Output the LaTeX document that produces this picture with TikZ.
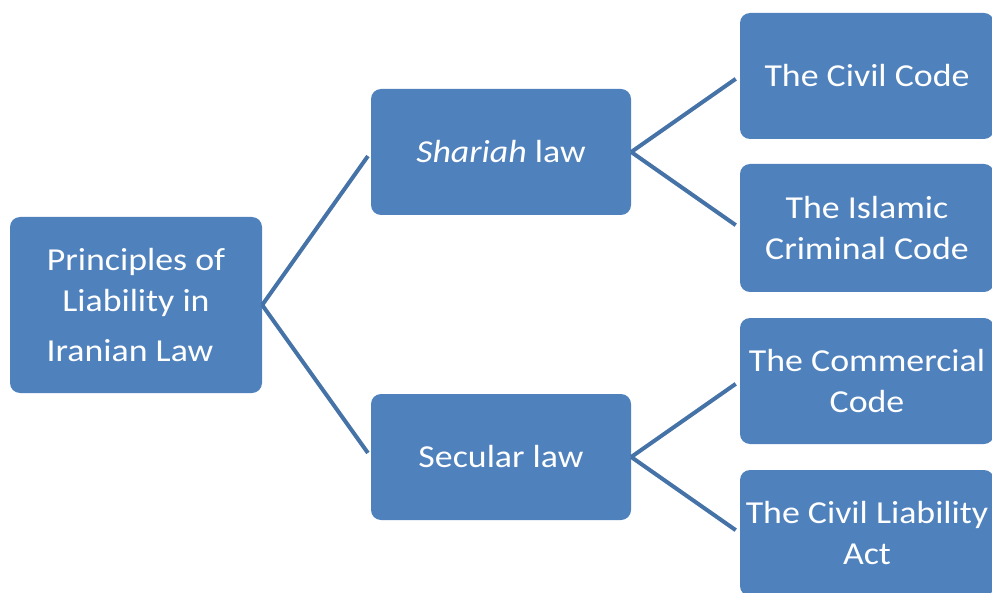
\documentclass[tikz,border=0pt]{standalone}
\usepackage{fontspec}
\setmainfont{Carlito}[FakeStretch=1.12]
\definecolor{boxblue}{HTML}{4F81BD}
\definecolor{lineblue}{HTML}{4572A7}
\begin{document}
\begin{tikzpicture}[x=1pt,y=-1pt,
  box/.style={fill=boxblue, rounded corners=10pt, text=white, align=center,
    inner sep=0pt, font=\fontsize{32}{41}\selectfont},
  link/.style={draw=lineblue, line width=4pt, shorten >=5pt}]
\useasboundingbox (0,0) rectangle (992,593);
\node[box, minimum width=252pt, minimum height=176pt] (root) at (136,305)
  {Principles of\\Liability in\\[9pt]Iranian Law\hspace*{12pt}};
\node[box, minimum width=260pt, minimum height=126pt] (shariah) at (501,152)
  {\textit{Shariah} law};
\node[box, minimum width=260pt, minimum height=126pt] (secular) at (501,457)
  {Secular law};
\node[box, minimum width=254pt, minimum height=126pt] (civil) at (867,76)
  {The Civil Code};
\node[box, minimum width=254pt, minimum height=128pt] (islamic) at (867,228)
  {The Islamic\\Criminal Code};
\node[box, minimum width=254pt, minimum height=126pt] (commercial) at (867,381)
  {The Commercial\\Code};
\node[box, minimum width=254pt, minimum height=126pt] (liability) at (867,533)
  {The Civil Liability\\Act};
\draw[link] (root.east) -- (shariah.west);
\draw[link] (root.east) -- (secular.west);
\draw[link] (shariah.east) -- (civil.west);
\draw[link] (shariah.east) -- (islamic.west);
\draw[link] (secular.east) -- (commercial.west);
\draw[link] (secular.east) -- (liability.west);
\end{tikzpicture}
\end{document}
